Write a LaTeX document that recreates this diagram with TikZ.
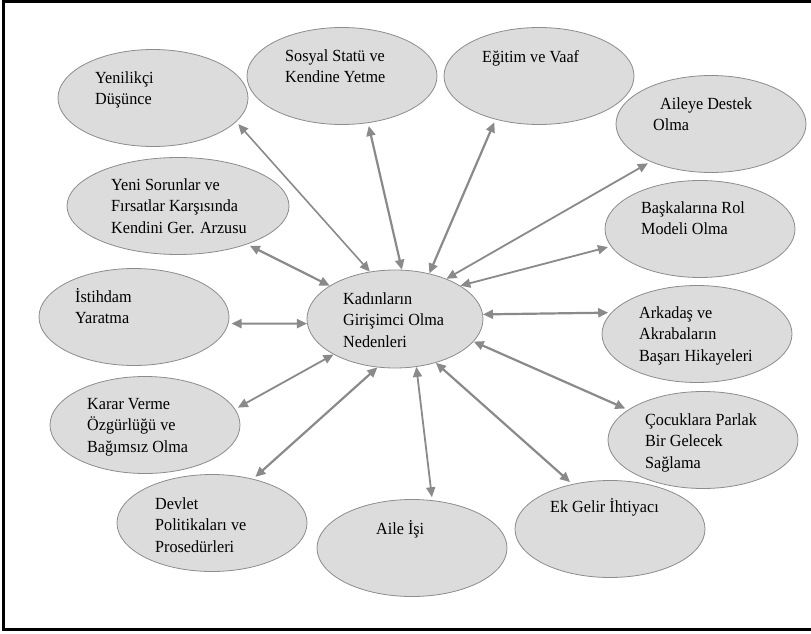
\documentclass[tikz,border=0pt]{standalone}
\usepackage{fontspec}
\newfontfamily\lserif{Liberation Serif}[FakeStretch=0.95]
\usetikzlibrary{shapes.geometric,arrows.meta}
\definecolor{bubblefill}{HTML}{DCDCDC}
\definecolor{bordergray}{HTML}{8C8C8C}
\definecolor{arrowgray}{HTML}{8A8A8A}
\newcommand\lblstrut{\rule{0pt}{15pt}}
\begin{document}
\begin{tikzpicture}[x=1pt,y=-1pt,
  bubble/.style={ellipse,draw=bordergray,fill=bubblefill,line width=0.8pt,inner sep=0pt,minimum width=190pt,minimum height=97pt},
  lbl/.style={anchor=north west,inner sep=0pt,align=left,font=\lserif\fontsize{17}{21.5}\selectfont,text=black},
  link/.style={draw=arrowgray,line width=2.2pt,{Triangle[length=10pt,width=9pt]}-{Triangle[length=10pt,width=9pt]},shorten <=3pt}
]
\useasboundingbox (0,0) rectangle (811,634);
\draw[line width=3pt] (3.5,1.5) rectangle (813,629.5);

% ellipses
\node[bubble] (cen) at (395,319) [minimum width=176pt,minimum height=98pt] {};
\node[bubble] (yen) at (153,98) {};
\node[bubble] (sos) at (342,76) {};
\node[bubble] (egi) at (539,76) {};
\node[bubble] (ail) at (711,124) {};
\node[bubble] (bas) at (700,229) {};
\node[bubble] (yeni) at (178,206) [minimum width=222pt] {};
\node[bubble] (ist) at (134,317) {};
\node[bubble] (ark) at (697,334) {};
\node[bubble] (coc) at (703,440) {};
\node[bubble] (kar) at (145,425) {};
\node[bubble] (dev) at (212,523) {};
\node[bubble] (aie) at (412,548) {};
\node[bubble] (ek) at (610,529) {};

% labels
\node[lbl] (tcen) at (343,289) {\lblstrut Kadınların\\Girişimci Olma\\Nedenleri};
\node[lbl] (tyen) at (95,68) {\lblstrut Yenilikçi\\Düşünce};
\node[lbl] (tsos) at (285,46) {\lblstrut Sosyal Statü ve\\Kendine Yetme};
\node[lbl] (tegi) at (482,47) {\lblstrut Eğitim ve Vaaf};
\node[lbl] (tail) at (653,94) {\lblstrut\hspace{7pt}Aileye Destek\\Olma};
\node[lbl] (tbas) at (641,198) {\lblstrut Başkalarına Rol\\Modeli Olma};
\node[lbl] (tyeni) at (111,175) {\lblstrut Yeni Sorunlar ve\\Fırsatlar Karşısında\\Kendini Ger. Arzusu};
\node[lbl] (tist) at (75,287) {\lblstrut İstihdam\\Yaratma};
\node[lbl] (tark) at (639,303) {\lblstrut Arkadaş ve\\Akrabaların\\Başarı Hikayeleri};
\node[lbl] (tcoc) at (645,410) {\lblstrut Çocuklara Parlak\\Bir Gelecek\\Sağlama};
\node[lbl] (tkar) at (87,394) {\lblstrut Karar Verme\\Özgürlüğü ve\\Bağımsız Olma};
\node[lbl] (tdev) at (155,494) {\lblstrut Devlet\\Politikaları ve\\Prosedürleri};
\node[lbl] (taie) at (376,519) {\lblstrut Aile İşi};
\node[lbl] (tek) at (550,497) {\lblstrut Ek Gelir İhtiyacı};

% connectors
\draw[link,line width=1.6pt] (yen.-16.9) -- (cen.118.8);
\draw[link] (sos.-61.5) -- (cen.82.2);
\draw[link] (egi.-135) -- (cen.53.3);
\draw[link,line width=1.8pt] (ail.-148.2) -- (cen.38);
\draw[link,line width=1.8pt] (bas.-169.9) -- (cen.27.8);
\draw[link] (yeni.-29.2) -- (cen.153.1);
\draw[link] (ist.-4.2) -- (cen.183.4);
\draw[link] (ark.166.9) -- (cen.3.7);
\draw[link] (coc.158.2) -- (cen.-16);
\draw[link,line width=1.8pt] (kar.10.1) -- (cen.-150.9);
\draw[link] (dev.47) -- (cen.-110.2);
\draw[link,line width=1.8pt] (aie.67.8) -- (cen.-66.8);
\draw[link] (ek.130.9) -- (cen.-47);
\end{tikzpicture}
\end{document}
